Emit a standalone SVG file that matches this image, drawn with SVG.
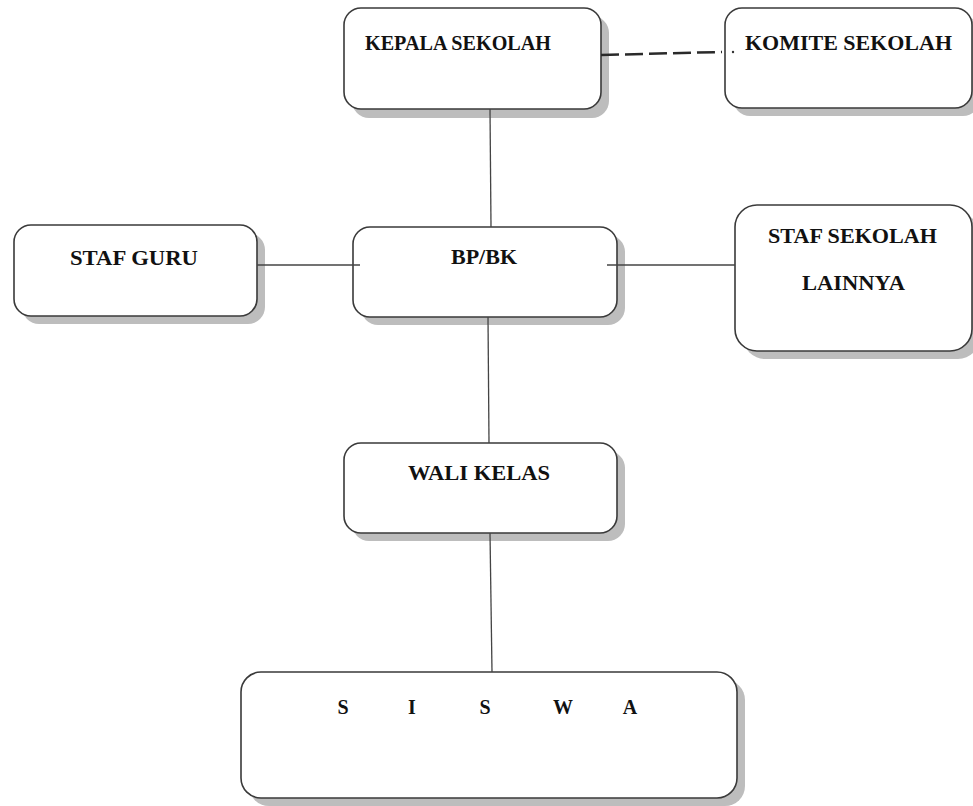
<svg xmlns="http://www.w3.org/2000/svg" width="973" height="806" viewBox="0 0 973 806">
<style>
.sh{fill:#bdbdbd}
.bx{fill:#fff;stroke:#3a3a3a;stroke-width:1.6}
.t{font-family:"Liberation Serif",serif;font-weight:bold;font-size:20px;fill:#111}
.c{stroke:#444;stroke-width:1.3;fill:none}
</style>
<rect width="973" height="806" fill="#fff"/>
<g id="kepala">
<rect class="sh" x="352" y="16" width="257" height="102" rx="17"/>
<rect class="bx" x="344" y="8" width="257" height="101" rx="17"/>
<text class="t" x="365" y="50" textLength="186" lengthAdjust="spacingAndGlyphs">KEPALA SEKOLAH</text>
</g>
<g id="komite">
<rect class="sh" x="733" y="16" width="247" height="100" rx="17"/>
<rect class="bx" x="725" y="8" width="247" height="100" rx="17"/>
<text class="t" x="745" y="50" textLength="207" lengthAdjust="spacingAndGlyphs">KOMITE SEKOLAH</text>
</g>
<g id="stafguru">
<rect class="sh" x="22" y="233" width="243" height="91" rx="17"/>
<rect class="bx" x="14" y="225" width="243" height="91" rx="17"/>
<text class="t" x="70" y="265" textLength="128" lengthAdjust="spacingAndGlyphs">STAF GURU</text>
</g>
<g id="bpbk">
<rect class="sh" x="361" y="235" width="264" height="90" rx="17"/>
<rect class="bx" x="353" y="227" width="264" height="90" rx="17"/>
<text class="t" x="451" y="264" textLength="66" lengthAdjust="spacingAndGlyphs">BP/BK</text>
</g>
<g id="stafsekolah">
<rect class="sh" x="743" y="213" width="237" height="146" rx="22"/>
<rect class="bx" x="735" y="205" width="237" height="146" rx="22"/>
<text class="t" x="768" y="243" textLength="169" lengthAdjust="spacingAndGlyphs">STAF SEKOLAH</text>
<text class="t" x="802" y="290" textLength="103" lengthAdjust="spacingAndGlyphs">LAINNYA</text>
</g>
<g id="walikelas">
<rect class="sh" x="352" y="451" width="273" height="90" rx="17"/>
<rect class="bx" x="344" y="443" width="273" height="90" rx="17"/>
<text class="t" x="408" y="480" textLength="142" lengthAdjust="spacingAndGlyphs">WALI KELAS</text>
</g>
<g id="siswa">
<rect class="sh" x="249" y="680" width="496" height="126" rx="20"/>
<rect class="bx" x="241" y="672" width="496" height="126" rx="20"/>
<text class="t" text-anchor="middle" y="714"><tspan x="343">S</tspan><tspan x="412">I</tspan><tspan x="485">S</tspan><tspan x="563">W</tspan><tspan x="630">A</tspan></text>
</g>
<g id="connectors">
<line class="c" x1="490" y1="109" x2="491" y2="227"/>
<line class="c" x1="257" y1="265" x2="360" y2="265"/>
<line class="c" x1="607" y1="265" x2="735" y2="265" stroke="#666" stroke-width="1"/>
<line class="c" x1="488" y1="317" x2="489" y2="443"/>
<line class="c" x1="490" y1="533" x2="492" y2="672"/>
<line x1="601" y1="55" x2="722" y2="52" stroke="#2a2a2a" stroke-width="2.5" stroke-dasharray="18 6"/>
<circle cx="733" cy="52" r="1.2" fill="#333"/>
</g>
</svg>
